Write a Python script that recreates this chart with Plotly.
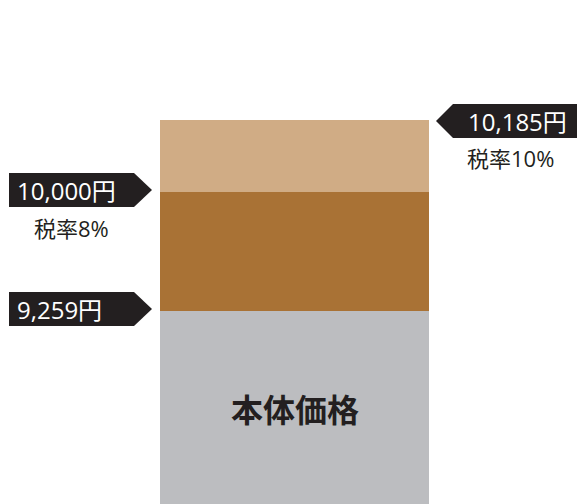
import plotly.graph_objects as go

# Data
segments = ["本体価格", "税率8%", "税率10%"]
segment_heights = [193, 119, 72]          # visual heights of stacked segments
segment_colors = ["#BCBDC0", "#A97235", "#D0AC85"]
price_labels = ["9,259円", "10,000円", "10,185円"]
rate_labels = ["", "税率8%", "税率10%"]

W, H = 577, 504
FONT = "Open Sans, Noto Sans CJK JP"
CJK = "Noto Sans CJK JP"

fig = go.Figure()
for name, h, c in zip(segments, segment_heights, segment_colors):
    fig.add_trace(go.Bar(x=["価格"], y=[h], name=name, marker=dict(color=c, line=dict(width=0)),
                         hoverinfo="skip"))

# cumulative tops
tops = []
s = 0
for h in segment_heights:
    s += h
    tops.append(s)

def px(x):
    return x / W

annotations = []
shapes = []

# left labels (9,259 and 10,000)
for i in (0, 1):
    yb = tops[i] + 2
    half = 17
    path = (f"M {px(9)},{yb-half} L {px(134)},{yb-half} L {px(152)},{yb} "
            f"L {px(134)},{yb+half} L {px(9)},{yb+half} Z")
    shapes.append(dict(type="path", path=path, xref="paper", yref="y",
                       fillcolor="#231F20", line=dict(width=0), layer="above"))
    annotations.append(dict(x=px(15), y=yb, xref="paper", yref="y", text=price_labels[i],
                            showarrow=False, xanchor="left", yanchor="middle",
                            font=dict(family=FONT, size=24, color="white")))
    if rate_labels[i]:
        annotations.append(dict(x=px(71), y=yb - 38, xref="paper", yref="y", text=rate_labels[i],
                                showarrow=False, xanchor="center", yanchor="middle",
                                font=dict(family=FONT, size=22, color="#231F20")))

# right label (10,185)
yb = tops[2] - 1
half = 17
path = (f"M {px(436)},{yb} L {px(453)},{yb+half} L {px(577)},{yb+half} "
        f"L {px(577)},{yb-half} L {px(453)},{yb-half} Z")
shapes.append(dict(type="path", path=path, xref="paper", yref="y",
                   fillcolor="#231F20", line=dict(width=0), layer="above"))
annotations.append(dict(x=px(466), y=yb, xref="paper", yref="y", text=price_labels[2],
                        showarrow=False, xanchor="left", yanchor="middle",
                        font=dict(family=FONT, size=24, color="white")))
annotations.append(dict(x=px(510), y=yb - 37, xref="paper", yref="y", text=rate_labels[2],
                        showarrow=False, xanchor="center", yanchor="middle",
                        font=dict(family=FONT, size=22, color="#231F20")))

# base label inside gray
annotations.append(dict(x=0.5, y=H - 408, xref="x domain", yref="y", text="<b>本体価格</b>",
                        showarrow=False, xanchor="center", yanchor="middle",
                        font=dict(family=CJK, size=32, color="#231F20")))

fig.update_layout(
    barmode="stack", bargap=0,
    width=W, height=H,
    margin=dict(l=0, r=0, t=0, b=0),
    paper_bgcolor="white", plot_bgcolor="white",
    showlegend=False,
    xaxis=dict(domain=[160 / W, 429 / W], visible=False),
    yaxis=dict(range=[0, H], visible=False, fixedrange=True),
    shapes=shapes,
    annotations=annotations,
)

fig.write_html("out.html", config={"displayModeBar": False})
